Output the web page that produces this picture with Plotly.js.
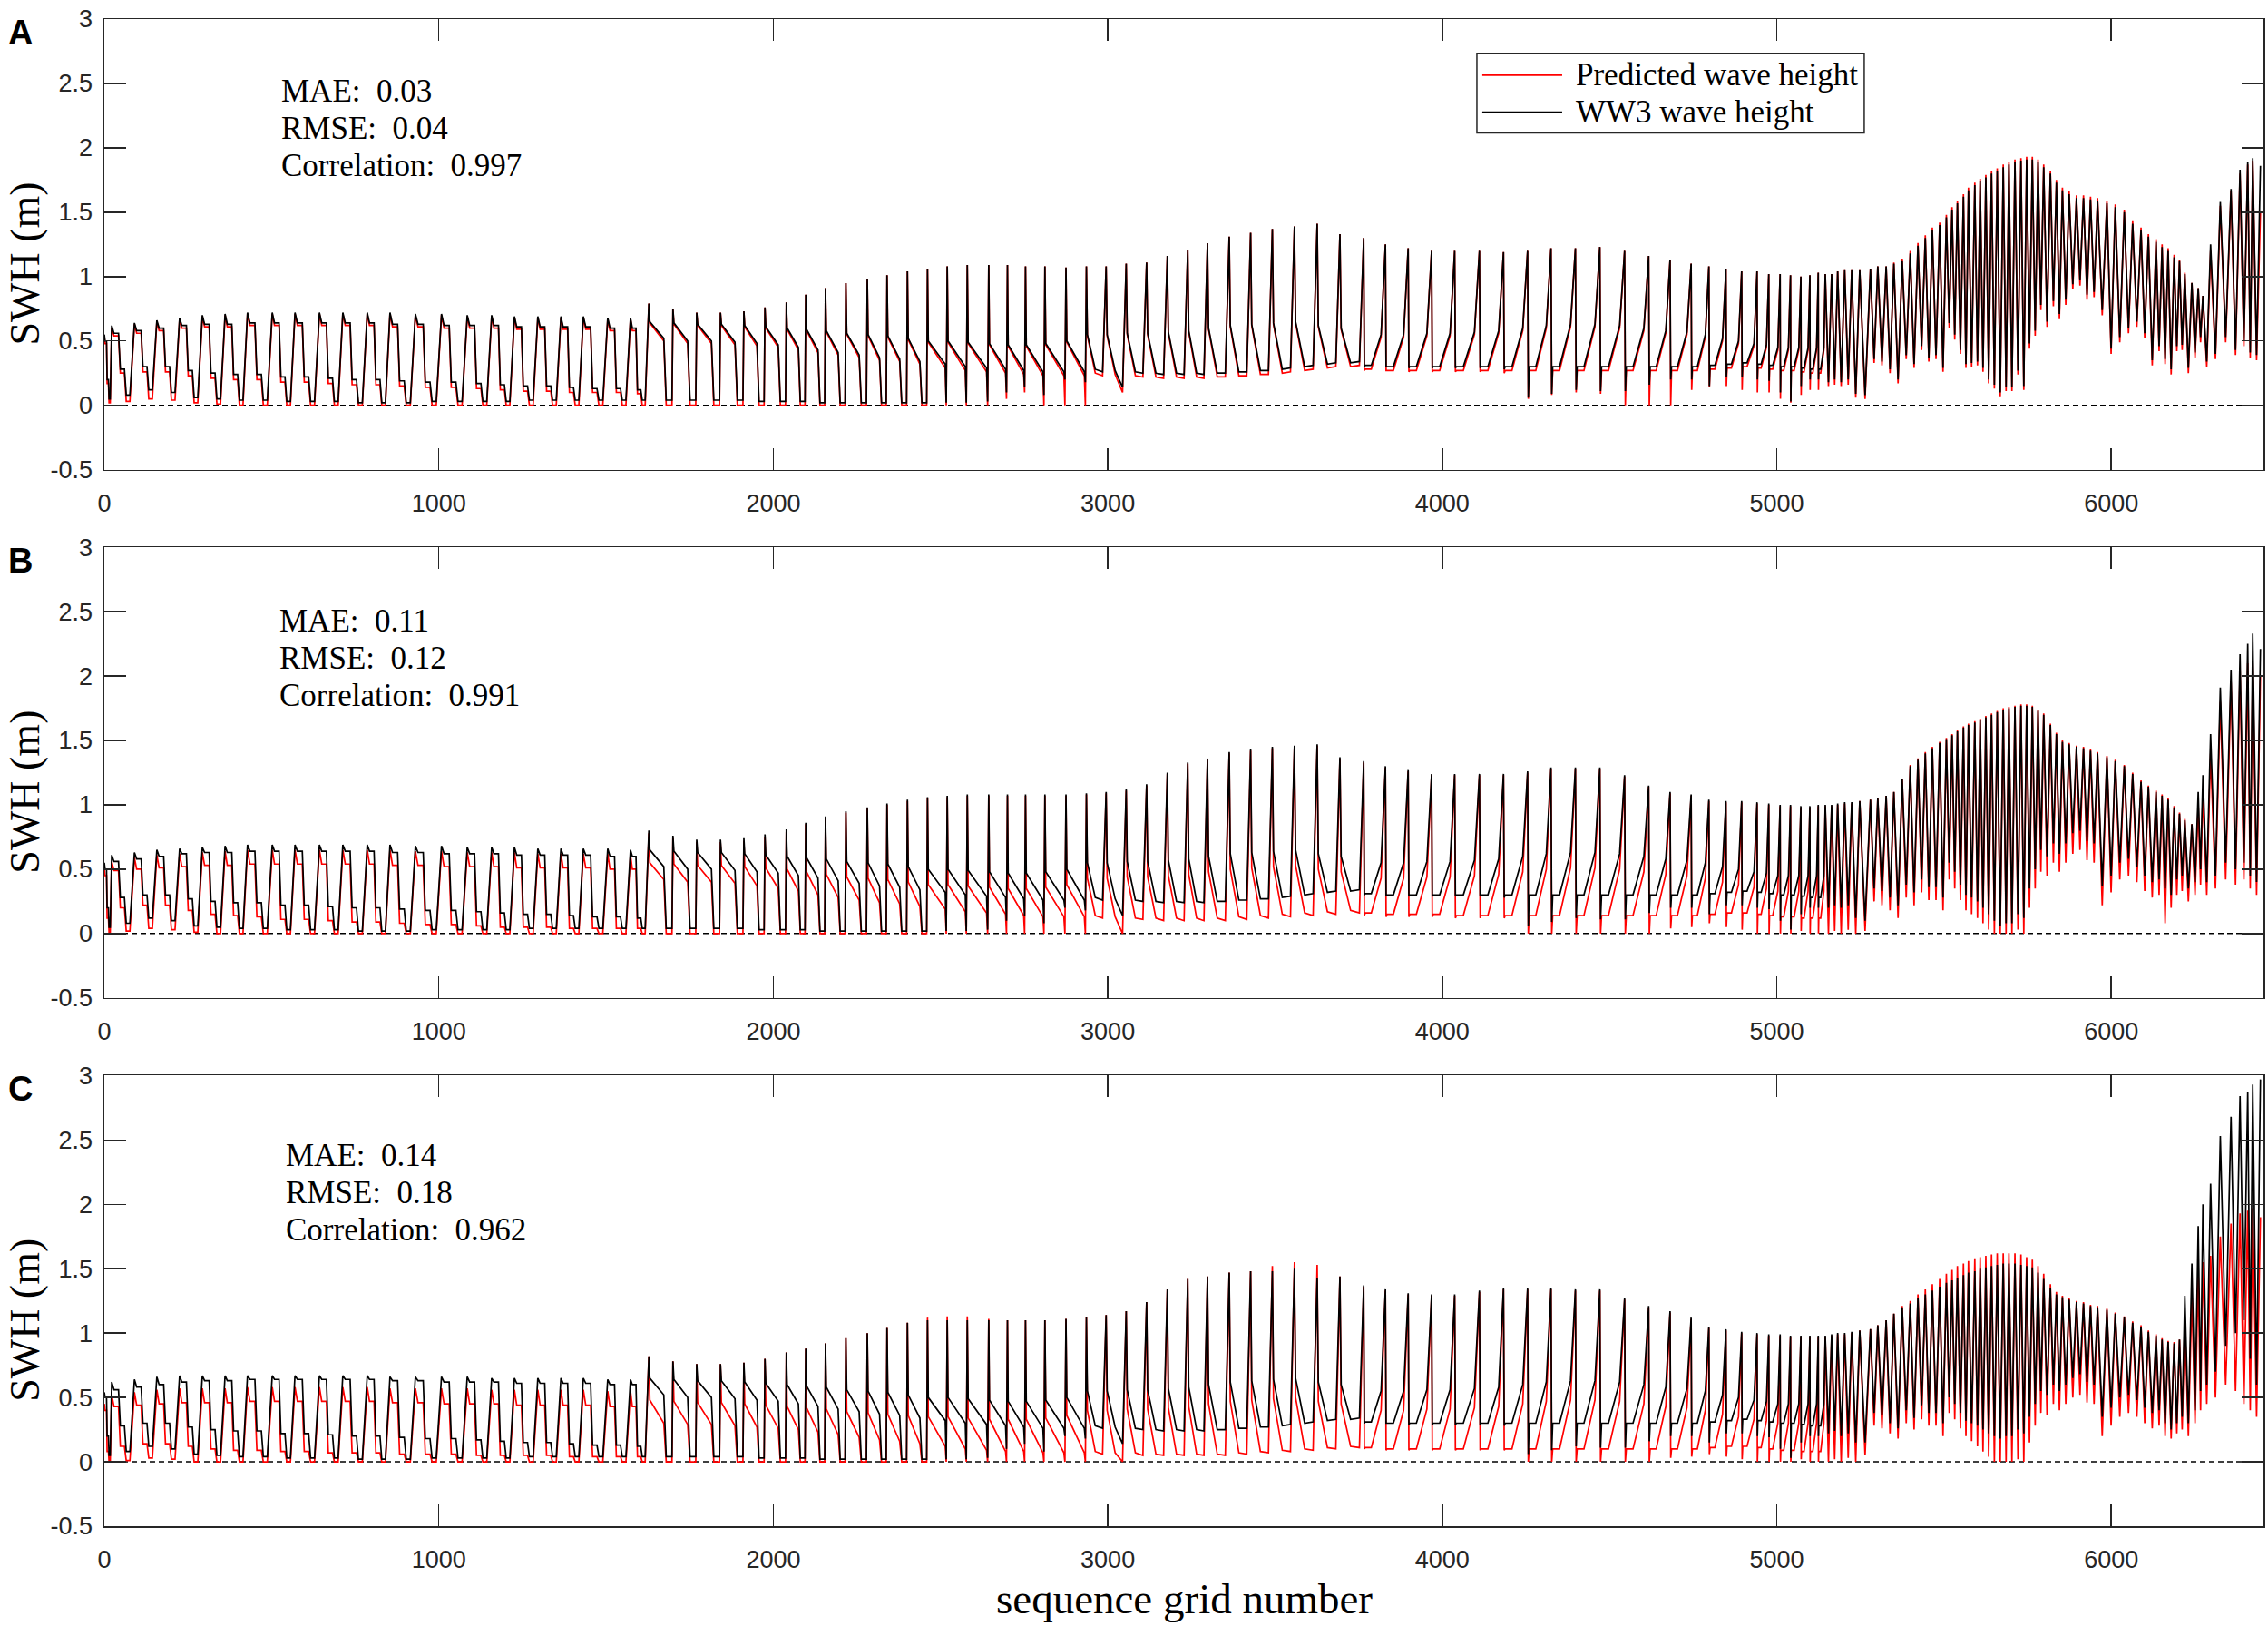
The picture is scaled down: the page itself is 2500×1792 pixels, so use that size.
<!DOCTYPE html>
<html>
<head>
<meta charset="utf-8">
<script src="https://cdn.plot.ly/plotly-3.0.1.min.js"></script>
<style>
  html, body { margin: 0; padding: 0; background: #fff; }
  #myDiv { width: 2500px; height: 1792px; }
</style>
</head>
<body>
<div id="myDiv"></div>
<script>
// grid number of every wave-height cycle peak (same grid in all three panels)
var cycleStart = [
  0, 22, 90, 157, 225, 293, 361, 428, 502, 570, 643, 713, 786, 854, 930, 1008, 1085, 1158, 1226, 1296, 1365, 1432, 1505, 1573,
  1628, 1700, 1771, 1842, 1912, 1975, 2039, 2097, 2156, 2217, 2281, 2340, 2401,
  2461, 2520, 2580, 2644, 2700, 2754, 2812, 2875,
  2936, 2995, 3055, 3116, 3178, 3239, 3298, 3363, 3427, 3492, 3558, 3626, 3694,
  3765, 3830, 3898, 3968, 4037, 4111, 4183, 4255, 4325, 4398, 4471, 4545, 4617, 4681, 4744, 4797, 4848, 4895, 4941, 4976, 5010, 5041, 5072, 5099, 5124,
  5145, 5164, 5182, 5203, 5224,
  5248, 5280, 5302, 5327, 5350, 5375, 5399, 5422, 5444, 5465,
  5487, 5507, 5524, 5540, 5558, 5573, 5592, 5608, 5625, 5642,
  5659, 5677, 5694, 5712, 5730, 5747, 5764, 5781, 5798, 5818,
  5836, 5854, 5874, 5896, 5917, 5938, 5959, 5987, 6012, 6039,
  6064, 6089, 6111, 6134, 6152, 6170, 6188, 6204, 6220, 6241,
  6260, 6274, 6297, 6326, 6358, 6385, 6408, 6423, 6446
];

// first cycle index of each stretch of the track, and how a cycle is drawn there
var regionFirst = [0, 24, 37, 45, 58, 83];
var regionShape = [
  [[0, 'P'], [0.1, 'U'], [0.3, 'U'], [0.38, 'L'], [0.56, 'L'], [0.64, 'B'], [0.8, 'B']],
  [[0, 'P'], [0.04, 'U'], [0.62, 'L'], [0.72, 'B'], [0.96, 'B']],
  [[0, 'P'], [0.04, 'U'], [0.9, 'L'], [0.95, 'B']],
  [[0, 'P'], [0.05, 'U'], [0.45, 'L'], [0.82, 'B']],
  [[0, 'P'], [0.03, 'B'], [0.07, 'L'], [0.35, 'L'], [0.8, 'U']],
  [[0, 'P'], [0.5, 'B']]
];

// ---- WW3 wave height ----
var obsPeakA = [
  0.55, 0.62, 0.64, 0.66, 0.68, 0.70, 0.71, 0.72, 0.72, 0.72, 0.72, 0.72, 0.72, 0.72, 0.71, 0.71, 0.70, 0.70, 0.69, 0.69, 0.69, 0.69, 0.68, 0.68,
  0.79, 0.75, 0.72, 0.72, 0.73, 0.76, 0.80, 0.86, 0.91, 0.95, 0.98, 1.01, 1.04,
  1.06, 1.08, 1.09, 1.09, 1.09, 1.08, 1.08, 1.07,
  1.08, 1.08, 1.10, 1.11, 1.16, 1.21, 1.26, 1.31, 1.34, 1.37, 1.39, 1.41, 1.33,
  1.30, 1.25, 1.22, 1.20, 1.20, 1.20, 1.19, 1.20, 1.22, 1.22, 1.23, 1.20, 1.16, 1.13, 1.10, 1.08, 1.06, 1.04, 1.04, 1.02, 1.02, 1.01, 1.00, 1.01, 1.03,
  1.02, 1.02, 1.04, 1.05, 1.05,
  1.05, 1.06, 1.08, 1.08, 1.10, 1.12, 1.18, 1.24, 1.30, 1.36,
  1.40, 1.46, 1.52, 1.57, 1.62, 1.67, 1.71, 1.74, 1.77, 1.80,
  1.82, 1.85, 1.87, 1.89, 1.90, 1.91, 1.91, 1.89, 1.85, 1.80,
  1.73, 1.67, 1.64, 1.61, 1.61, 1.60, 1.59, 1.57, 1.54, 1.50,
  1.41, 1.36, 1.31, 1.27, 1.23, 1.20, 1.15, 1.12, 1.02, 0.95,
  0.91, 0.85, 1.25, 1.58, 1.68, 1.83, 1.89, 1.92, 1.86
];
var obsPeakB = [
  0.55, 0.61, 0.63, 0.65, 0.66, 0.67, 0.68, 0.69, 0.69, 0.69, 0.69, 0.69, 0.69, 0.69, 0.68, 0.68, 0.67, 0.67, 0.67, 0.66, 0.66, 0.66, 0.66, 0.65,
  0.80, 0.76, 0.73, 0.73, 0.74, 0.77, 0.81, 0.86, 0.91, 0.95, 0.98, 1.01, 1.04,
  1.06, 1.07, 1.08, 1.08, 1.08, 1.08, 1.08, 1.08,
  1.09, 1.10, 1.12, 1.16, 1.25, 1.33, 1.36, 1.41, 1.43, 1.45, 1.46, 1.47, 1.37,
  1.34, 1.30, 1.27, 1.24, 1.24, 1.24, 1.24, 1.26, 1.29, 1.29, 1.29, 1.23, 1.15, 1.10, 1.08, 1.04, 1.03, 1.03, 1.02, 1.01, 1.00, 1.00, 0.99, 0.99, 1.00,
  1.00, 1.00, 1.01, 1.02, 1.02,
  1.03, 1.04, 1.05, 1.07, 1.10, 1.20, 1.30, 1.35, 1.40, 1.44,
  1.48, 1.51, 1.54, 1.57, 1.60, 1.62, 1.64, 1.66, 1.68, 1.70,
  1.72, 1.74, 1.75, 1.76, 1.77, 1.77, 1.76, 1.73, 1.70, 1.62,
  1.55, 1.49, 1.47, 1.45, 1.44, 1.42, 1.40, 1.37, 1.34, 1.30,
  1.24, 1.18, 1.14, 1.10, 1.07, 1.04, 0.98, 0.93, 0.88, 0.85,
  1.10, 1.23, 1.55, 1.91, 2.05, 2.17, 2.25, 2.33, 2.21
];
var obsPeakC = [
  0.54, 0.62, 0.64, 0.66, 0.67, 0.67, 0.67, 0.67, 0.67, 0.67, 0.67, 0.67, 0.67, 0.66, 0.66, 0.66, 0.66, 0.65, 0.65, 0.65, 0.65, 0.65, 0.64, 0.64,
  0.82, 0.78, 0.76, 0.76, 0.77, 0.80, 0.85, 0.88, 0.92, 0.96, 1.00, 1.04, 1.08,
  1.10, 1.10, 1.10, 1.10, 1.10, 1.10, 1.10, 1.11,
  1.12, 1.14, 1.17, 1.24, 1.34, 1.42, 1.44, 1.47, 1.48, 1.48, 1.50, 1.43, 1.44,
  1.37, 1.34, 1.31, 1.30, 1.30, 1.33, 1.35, 1.35, 1.35, 1.34, 1.34, 1.27, 1.21, 1.17, 1.12, 1.05, 1.03, 1.01, 1.00, 0.99, 0.99, 0.98, 0.98, 0.98, 0.98,
  0.98, 0.99, 1.00, 1.00, 1.01,
  1.02, 1.03, 1.06, 1.10, 1.15, 1.20, 1.23, 1.27, 1.30, 1.33,
  1.36, 1.39, 1.41, 1.43, 1.45, 1.47, 1.48, 1.50, 1.51, 1.52,
  1.53, 1.54, 1.54, 1.54, 1.53, 1.52, 1.51, 1.47, 1.42, 1.35,
  1.30, 1.28, 1.26, 1.24, 1.23, 1.21, 1.20, 1.18, 1.15, 1.12,
  1.08, 1.05, 1.01, 0.98, 0.95, 0.93, 0.92, 0.95, 1.29, 1.54,
  1.83, 2.00, 2.16, 2.53, 2.68, 2.84, 2.87, 2.93, 2.97
];
// shoulder / trough levels of the first 83 cycles, alike in the three runs
var obsUpper = [
  0.50, 0.56, 0.58, 0.60, 0.62, 0.63, 0.63, 0.64, 0.64, 0.64, 0.64, 0.64, 0.64, 0.63, 0.63, 0.62, 0.62, 0.62, 0.61, 0.61, 0.61, 0.61, 0.60, 0.60,
  0.65, 0.64, 0.63, 0.63, 0.62, 0.61, 0.60, 0.59, 0.58, 0.56, 0.55, 0.54, 0.52,
  0.50, 0.50, 0.49, 0.48, 0.47, 0.47, 0.48, 0.50,
  0.55, 0.55, 0.56, 0.56, 0.57, 0.58, 0.60, 0.62, 0.63, 0.64, 0.65, 0.62, 0.60,
  0.55, 0.55, 0.56, 0.56, 0.57, 0.58, 0.60, 0.62, 0.63, 0.63, 0.62, 0.60, 0.58, 0.57, 0.55, 0.52, 0.50, 0.48, 0.47, 0.45, 0.45, 0.45, 0.45, 0.45, 0.45
];
var obsLower = [
  0.20, 0.28, 0.30, 0.30, 0.27, 0.25, 0.24, 0.24, 0.22, 0.22, 0.21, 0.20, 0.20, 0.19, 0.18, 0.18, 0.17, 0.16, 0.15, 0.15, 0.14, 0.13, 0.13, 0.12,
  0.52, 0.50, 0.50, 0.49, 0.48, 0.47, 0.45, 0.43, 0.41, 0.39, 0.37, 0.36, 0.34,
  0.32, 0.30, 0.29, 0.28, 0.27, 0.26, 0.26, 0.26,
  0.28, 0.27, 0.26, 0.25, 0.25, 0.25, 0.25, 0.26, 0.27, 0.28, 0.30, 0.32, 0.33,
  0.31, 0.30, 0.30, 0.30, 0.30, 0.30, 0.30, 0.30, 0.30, 0.30, 0.30, 0.30, 0.30, 0.30, 0.30, 0.31, 0.32, 0.33, 0.32, 0.31, 0.30, 0.30, 0.29, 0.28, 0.28
];
var obsBottom = [
  0.05, 0.08, 0.12, 0.10, 0.06, 0.05, 0.04, 0.04, 0.03, 0.03, 0.03, 0.02, 0.02, 0.02, 0.03, 0.03, 0.03, 0.03, 0.04, 0.04, 0.04, 0.04, 0.04, 0.04,
  0.04, 0.04, 0.04, 0.04, 0.03, 0.03, 0.03, 0.02, 0.02, 0.02, 0.02, 0.02, 0.02,
  0.02, 0.02, 0.03, 0.10, 0.14, 0.08, 0.20, 0.18,
  0.26, 0.14, 0.25, 0.24, 0.24, 0.24, 0.25, 0.26, 0.27, 0.29, 0.31, 0.33, 0.34,
  0.30, 0.30, 0.29, 0.29, 0.29, 0.29, 0.28, 0.06, 0.09, 0.12, 0.11, 0.11, 0.16, 0.20, 0.20, 0.15, 0.22, 0.22, 0.20, 0.19, 0.10, 0.03, 0.15, 0.20, 0.20
];
// troughs of the dense stretch after grid 5140 (64 cycles)
var obsTroughA = [
  0.18, 0.20, 0.18, 0.20, 0.09,
  0.08, 0.36, 0.34, 0.28, 0.20, 0.39, 0.32, 0.46, 0.37, 0.39,
  0.29, 0.64, 0.55, 0.43, 0.32, 0.33, 0.34, 0.29, 0.20, 0.16,
  0.10, 0.14, 0.14, 0.27, 0.15, 0.48, 0.58, 0.78, 0.65, 0.81,
  0.71, 0.82, 0.94, 0.97, 0.86, 0.88, 0.74, 0.44, 0.53, 0.60,
  0.65, 0.56, 0.35, 0.46, 0.36, 0.28, 0.46, 0.47, 0.29, 0.41,
  0.53, 0.34, 0.40, 0.53, 0.43, 0.50, 0.41, 0.39, 0.20
];
var obsTroughB = [
  0.20, 0.22, 0.20, 0.22, 0.12,
  0.10, 0.35, 0.33, 0.28, 0.22, 0.38, 0.32, 0.42, 0.36, 0.36,
  0.28, 0.55, 0.48, 0.38, 0.30, 0.28, 0.25, 0.20, 0.15, 0.10,
  0.06, 0.08, 0.08, 0.15, 0.12, 0.35, 0.50, 0.65, 0.60, 0.70,
  0.62, 0.70, 0.78, 0.80, 0.72, 0.70, 0.37, 0.45, 0.55, 0.58,
  0.52, 0.45, 0.40, 0.42, 0.35, 0.30, 0.42, 0.45, 0.35, 0.40,
  0.50, 0.40, 0.45, 0.55, 0.50, 0.55, 0.45, 0.40, 0.30
];
var obsTroughC = [
  0.22, 0.24, 0.20, 0.22, 0.15,
  0.15, 0.38, 0.36, 0.30, 0.26, 0.40, 0.34, 0.44, 0.38, 0.38,
  0.30, 0.50, 0.45, 0.38, 0.32, 0.30, 0.28, 0.25, 0.22, 0.20,
  0.18, 0.20, 0.20, 0.25, 0.22, 0.35, 0.45, 0.55, 0.52, 0.60,
  0.55, 0.60, 0.65, 0.68, 0.62, 0.60, 0.35, 0.42, 0.50, 0.52,
  0.48, 0.42, 0.38, 0.40, 0.30, 0.25, 0.30, 0.35, 0.30, 0.40,
  0.55, 0.60, 0.70, 0.90, 1.00, 1.10, 0.80, 0.60, 0.40
];

// ---- Predicted wave height ----
var predPeakA = [
  0.53, 0.60, 0.63, 0.65, 0.67, 0.69, 0.70, 0.71, 0.71, 0.71, 0.71, 0.71, 0.71, 0.71, 0.70, 0.70, 0.69, 0.69, 0.68, 0.68, 0.68, 0.68, 0.67, 0.67,
  0.79, 0.75, 0.72, 0.72, 0.73, 0.76, 0.80, 0.86, 0.91, 0.95, 0.98, 1.01, 1.04,
  1.06, 1.08, 1.09, 1.09, 1.09, 1.08, 1.08, 1.07,
  1.08, 1.08, 1.10, 1.11, 1.16, 1.21, 1.26, 1.31, 1.34, 1.37, 1.39, 1.41, 1.33,
  1.30, 1.25, 1.22, 1.20, 1.20, 1.20, 1.19, 1.20, 1.22, 1.22, 1.23, 1.20, 1.16, 1.13, 1.10, 1.08, 1.06, 1.04, 1.04, 1.02, 1.02, 1.01, 1.00, 1.01, 1.03,
  1.02, 1.02, 1.04, 1.05, 1.05,
  1.05, 1.06, 1.08, 1.08, 1.11, 1.14, 1.20, 1.26, 1.32, 1.38,
  1.42, 1.48, 1.54, 1.59, 1.64, 1.69, 1.73, 1.76, 1.79, 1.82,
  1.84, 1.87, 1.89, 1.91, 1.92, 1.93, 1.93, 1.91, 1.87, 1.82,
  1.75, 1.69, 1.66, 1.63, 1.63, 1.62, 1.61, 1.59, 1.56, 1.52,
  1.43, 1.38, 1.33, 1.29, 1.25, 1.22, 1.17, 1.13, 1.03, 0.95,
  0.91, 0.85, 1.20, 1.55, 1.66, 1.80, 1.87, 1.90, 1.50
];
var predPeakB = [
  0.50, 0.56, 0.59, 0.61, 0.62, 0.63, 0.64, 0.65, 0.65, 0.65, 0.65, 0.65, 0.65, 0.65, 0.64, 0.64, 0.63, 0.63, 0.63, 0.62, 0.62, 0.62, 0.62, 0.61,
  0.78, 0.74, 0.71, 0.71, 0.72, 0.75, 0.79, 0.85, 0.90, 0.94, 0.97, 1.00, 1.03,
  1.05, 1.06, 1.07, 1.07, 1.07, 1.07, 1.07, 1.07,
  1.08, 1.09, 1.11, 1.15, 1.24, 1.32, 1.35, 1.40, 1.42, 1.44, 1.45, 1.46, 1.36,
  1.33, 1.29, 1.26, 1.23, 1.23, 1.23, 1.23, 1.25, 1.28, 1.28, 1.28, 1.22, 1.14, 1.09, 1.07, 1.03, 1.02, 1.02, 1.01, 1.00, 0.99, 0.99, 0.98, 0.98, 0.99,
  0.99, 0.99, 1.00, 1.01, 1.01,
  1.03, 1.04, 1.05, 1.07, 1.10, 1.20, 1.31, 1.36, 1.41, 1.45,
  1.49, 1.52, 1.55, 1.58, 1.61, 1.63, 1.65, 1.67, 1.69, 1.71,
  1.73, 1.75, 1.76, 1.77, 1.78, 1.78, 1.77, 1.74, 1.71, 1.63,
  1.56, 1.50, 1.48, 1.46, 1.45, 1.43, 1.41, 1.38, 1.35, 1.31,
  1.25, 1.19, 1.15, 1.11, 1.08, 1.05, 0.99, 0.94, 0.89, 0.85,
  1.00, 1.10, 1.40, 1.80, 1.95, 2.05, 2.10, 2.10, 2.00
];
var predPeakC = [
  0.45, 0.52, 0.54, 0.56, 0.57, 0.57, 0.57, 0.58, 0.58, 0.58, 0.58, 0.58, 0.58, 0.57, 0.57, 0.57, 0.57, 0.56, 0.56, 0.56, 0.56, 0.56, 0.55, 0.55,
  0.82, 0.78, 0.76, 0.76, 0.77, 0.80, 0.85, 0.88, 0.92, 0.96, 1.00, 1.04, 1.08,
  1.12, 1.13, 1.13, 1.11, 1.10, 1.10, 1.10, 1.11,
  1.12, 1.14, 1.17, 1.24, 1.34, 1.42, 1.44, 1.47, 1.48, 1.52, 1.55, 1.53, 1.44,
  1.36, 1.33, 1.30, 1.29, 1.29, 1.32, 1.34, 1.34, 1.34, 1.33, 1.33, 1.26, 1.20, 1.16, 1.11, 1.04, 1.02, 1.00, 0.99, 0.98, 0.98, 0.97, 0.97, 0.97, 0.97,
  0.97, 0.98, 0.99, 0.99, 1.00,
  1.02, 1.03, 1.06, 1.10, 1.15, 1.21, 1.25, 1.30, 1.34, 1.38,
  1.42, 1.46, 1.49, 1.52, 1.54, 1.56, 1.58, 1.59, 1.60, 1.61,
  1.62, 1.62, 1.62, 1.62, 1.61, 1.59, 1.57, 1.52, 1.46, 1.38,
  1.32, 1.29, 1.27, 1.25, 1.24, 1.22, 1.21, 1.19, 1.16, 1.13,
  1.09, 1.06, 1.02, 0.99, 0.96, 0.94, 0.93, 0.95, 1.10, 1.30,
  1.45, 1.55, 1.60, 1.75, 1.85, 1.93, 1.95, 1.97, 1.90
];
var predUpperA = [
  0.48, 0.54, 0.56, 0.58, 0.60, 0.61, 0.61, 0.62, 0.62, 0.62, 0.62, 0.62, 0.62, 0.61, 0.61, 0.60, 0.60, 0.60, 0.59, 0.59, 0.59, 0.59, 0.58, 0.58,
  0.64, 0.63, 0.62, 0.62, 0.61, 0.60, 0.59, 0.58, 0.57, 0.55, 0.54, 0.53, 0.51,
  0.49, 0.49, 0.48, 0.47, 0.46, 0.46, 0.47, 0.49,
  0.54, 0.54, 0.55, 0.55, 0.56, 0.57, 0.59, 0.61, 0.62, 0.63, 0.64, 0.61, 0.59,
  0.53, 0.53, 0.54, 0.54, 0.55, 0.56, 0.58, 0.60, 0.61, 0.61, 0.60, 0.58, 0.56, 0.55, 0.53, 0.50, 0.48, 0.46, 0.45, 0.43, 0.43, 0.43, 0.43, 0.43, 0.43
];
var predUpperB = [
  0.45, 0.49, 0.50, 0.51, 0.52, 0.53, 0.53, 0.54, 0.54, 0.54, 0.54, 0.54, 0.54, 0.53, 0.53, 0.52, 0.52, 0.52, 0.51, 0.51, 0.51, 0.51, 0.50, 0.50,
  0.55, 0.54, 0.53, 0.53, 0.52, 0.51, 0.50, 0.48, 0.46, 0.44, 0.43, 0.42, 0.40,
  0.38, 0.38, 0.37, 0.36, 0.35, 0.35, 0.36, 0.38,
  0.43, 0.43, 0.44, 0.44, 0.45, 0.46, 0.48, 0.50, 0.51, 0.52, 0.53, 0.50, 0.48,
  0.43, 0.43, 0.44, 0.44, 0.45, 0.46, 0.48, 0.50, 0.51, 0.51, 0.50, 0.48, 0.46, 0.45, 0.43, 0.40, 0.38, 0.36, 0.35, 0.33, 0.33, 0.33, 0.33, 0.33, 0.33
];
var predUpperC = [
  0.40, 0.43, 0.44, 0.45, 0.46, 0.46, 0.46, 0.47, 0.47, 0.47, 0.47, 0.47, 0.47, 0.46, 0.46, 0.45, 0.45, 0.45, 0.44, 0.44, 0.44, 0.44, 0.43, 0.43,
  0.48, 0.47, 0.46, 0.46, 0.45, 0.44, 0.43, 0.42, 0.41, 0.39, 0.38, 0.37, 0.36,
  0.35, 0.35, 0.34, 0.33, 0.33, 0.33, 0.34, 0.36,
  0.40, 0.40, 0.41, 0.41, 0.42, 0.43, 0.45, 0.47, 0.48, 0.49, 0.50, 0.47, 0.45,
  0.40, 0.40, 0.41, 0.41, 0.42, 0.43, 0.45, 0.47, 0.48, 0.48, 0.47, 0.45, 0.43, 0.42, 0.40, 0.37, 0.35, 0.33, 0.32, 0.30, 0.30, 0.30, 0.30, 0.30, 0.30
];
var predLowerA = [
  0.17, 0.25, 0.26, 0.26, 0.23, 0.21, 0.20, 0.20, 0.18, 0.18, 0.17, 0.16, 0.16, 0.15, 0.14, 0.14, 0.13, 0.12, 0.11, 0.11, 0.10, 0.10, 0.10, 0.09,
  0.50, 0.48, 0.48, 0.47, 0.46, 0.45, 0.43, 0.41, 0.39, 0.37, 0.35, 0.34, 0.32,
  0.29, 0.27, 0.26, 0.25, 0.24, 0.23, 0.23, 0.23,
  0.25, 0.24, 0.23, 0.22, 0.22, 0.22, 0.22, 0.23, 0.24, 0.25, 0.27, 0.29, 0.30,
  0.28, 0.27, 0.27, 0.27, 0.27, 0.27, 0.27, 0.27, 0.27, 0.27, 0.27, 0.27, 0.27, 0.27, 0.27, 0.28, 0.29, 0.30, 0.29, 0.28, 0.27, 0.27, 0.26, 0.25, 0.25
];
var predLowerB = [
  0.12, 0.20, 0.22, 0.22, 0.18, 0.15, 0.14, 0.13, 0.11, 0.11, 0.10, 0.09, 0.09, 0.08, 0.07, 0.07, 0.06, 0.05, 0.05, 0.05, 0.04, 0.04, 0.04, 0.04,
  0.42, 0.40, 0.40, 0.39, 0.37, 0.35, 0.33, 0.30, 0.28, 0.26, 0.24, 0.23, 0.21,
  0.19, 0.17, 0.16, 0.15, 0.14, 0.13, 0.13, 0.13,
  0.14, 0.13, 0.12, 0.12, 0.12, 0.12, 0.12, 0.13, 0.14, 0.15, 0.16, 0.17, 0.18,
  0.16, 0.15, 0.15, 0.15, 0.14, 0.14, 0.14, 0.14, 0.14, 0.14, 0.14, 0.14, 0.14, 0.14, 0.14, 0.15, 0.16, 0.16, 0.15, 0.14, 0.13, 0.13, 0.12, 0.12, 0.12
];
var predLowerC = [
  0.08, 0.12, 0.14, 0.14, 0.12, 0.10, 0.09, 0.09, 0.08, 0.08, 0.07, 0.07, 0.07, 0.06, 0.06, 0.06, 0.05, 0.05, 0.05, 0.05, 0.04, 0.04, 0.04, 0.04,
  0.30, 0.29, 0.29, 0.28, 0.27, 0.26, 0.25, 0.23, 0.21, 0.19, 0.17, 0.16, 0.14,
  0.12, 0.10, 0.09, 0.08, 0.08, 0.07, 0.07, 0.07,
  0.08, 0.07, 0.07, 0.06, 0.06, 0.06, 0.06, 0.07, 0.08, 0.09, 0.10, 0.11, 0.12,
  0.11, 0.10, 0.10, 0.10, 0.10, 0.10, 0.10, 0.10, 0.10, 0.10, 0.10, 0.10, 0.10, 0.10, 0.10, 0.11, 0.12, 0.12, 0.11, 0.10, 0.09, 0.09, 0.08, 0.08, 0.08
];
var predBottomA = [
  0.02, 0.03, 0.05, 0.04, 0.02, 0.01, 0, 0, 0, 0, 0, 0, 0, 0, 0, 0, 0, 0, 0, 0, 0, 0, 0, 0,
  0, 0, 0, 0, 0, 0, 0, 0, 0, 0, 0, 0, 0,
  0, 0, 0, 0.05, 0.10, 0, 0, 0,
  0.23, 0.10, 0.22, 0.21, 0.21, 0.21, 0.22, 0.23, 0.24, 0.26, 0.28, 0.30, 0.31,
  0.27, 0.27, 0.26, 0.26, 0.26, 0.26, 0.25, 0.05, 0.08, 0.10, 0.09, 0, 0, 0, 0.12, 0.14, 0.15, 0.12, 0.10, 0.10, 0.05, 0.02, 0.08, 0.12, 0.12
];
var predBottomB = [
  0.01, 0.02, 0.04, 0.03, 0.01, 0, 0, 0, 0, 0, 0, 0, 0, 0, 0, 0, 0, 0, 0, 0, 0, 0, 0, 0,
  0, 0, 0, 0, 0, 0, 0, 0, 0, 0, 0, 0, 0,
  0, 0, 0, 0, 0, 0, 0, 0,
  0.12, 0, 0.11, 0.10, 0.10, 0.10, 0.10, 0.11, 0.12, 0.13, 0.14, 0.15, 0.16,
  0.14, 0.13, 0.13, 0.13, 0.12, 0.12, 0.12, 0, 0, 0, 0, 0, 0, 0.04, 0.05, 0.08, 0.05, 0.03, 0, 0, 0, 0, 0.02, 0, 0
];
var predBottomC = [
  0, 0.01, 0.03, 0.02, 0, 0, 0, 0, 0, 0, 0, 0, 0, 0, 0, 0, 0, 0, 0, 0, 0, 0, 0, 0,
  0, 0, 0, 0, 0, 0, 0, 0, 0, 0, 0, 0, 0,
  0, 0, 0, 0, 0, 0, 0, 0,
  0.06, 0, 0.05, 0.05, 0.05, 0.05, 0.05, 0.06, 0.07, 0.08, 0.09, 0.10, 0.11,
  0.10, 0.09, 0.09, 0.09, 0.09, 0.09, 0.09, 0, 0, 0, 0, 0, 0, 0.03, 0.04, 0.06, 0.04, 0.02, 0, 0, 0, 0, 0.02, 0, 0
];
var predTroughA = [
  0.15, 0.16, 0.15, 0.16, 0.06,
  0.05, 0.33, 0.31, 0.25, 0.17, 0.36, 0.29, 0.43, 0.34, 0.36,
  0.26, 0.60, 0.51, 0.40, 0.29, 0.30, 0.31, 0.26, 0.17, 0.13,
  0.07, 0.11, 0.11, 0.24, 0.12, 0.44, 0.54, 0.74, 0.61, 0.77,
  0.67, 0.78, 0.90, 0.93, 0.82, 0.84, 0.70, 0.40, 0.49, 0.56,
  0.61, 0.52, 0.31, 0.42, 0.32, 0.24, 0.42, 0.43, 0.25, 0.37,
  0.49, 0.30, 0.36, 0.49, 0.39, 0.46, 0.37, 0.35, 0.10
];
var predTroughB = [
  0, 0.02, 0, 0.03, 0,
  0.02, 0.25, 0.22, 0.18, 0.12, 0.28, 0.22, 0.32, 0.26, 0.26,
  0.18, 0.42, 0.35, 0.26, 0.18, 0.15, 0.12, 0.08, 0.03, 0,
  0, 0, 0, 0.03, 0, 0.20, 0.35, 0.48, 0.45, 0.55,
  0.48, 0.55, 0.62, 0.65, 0.57, 0.55, 0.22, 0.32, 0.42, 0.45,
  0.40, 0.33, 0.28, 0.30, 0.08, 0.20, 0.30, 0.33, 0.25, 0.30,
  0.38, 0.30, 0.35, 0.42, 0.38, 0.42, 0.35, 0.30, 0.20
];
var predTroughC = [
  0, 0.02, 0, 0.03, 0,
  0.05, 0.28, 0.26, 0.22, 0.18, 0.30, 0.25, 0.33, 0.28, 0.28,
  0.20, 0.38, 0.33, 0.26, 0.20, 0.16, 0.12, 0.08, 0.04, 0,
  0, 0, 0, 0.02, 0, 0.15, 0.28, 0.38, 0.36, 0.45,
  0.40, 0.45, 0.50, 0.52, 0.46, 0.45, 0.20, 0.28, 0.35, 0.38,
  0.35, 0.30, 0.26, 0.28, 0.20, 0.18, 0.22, 0.25, 0.20, 0.30,
  0.40, 0.45, 0.50, 0.60, 0.55, 0.45, 0.40, 0.35, 0.30
];

var xTickVals = [0, 1000, 2000, 3000, 4000, 5000, 6000];
var yTickVals = [-0.5, 0, 0.5, 1, 1.5, 2, 2.5, 3];
var yTickText = ['-0.5', '0', '0.5', '1', '1.5', '2', '2.5', '3'];
var panelLetters = ['A', 'B', 'C'];
var seriesNames = ['Predicted wave height', 'WW3 wave height'];
var seriesColors = ['#ff0000', '#000000'];
var statText = [
  ['MAE:  0.03', 'RMSE:  0.04', 'Correlation:  0.997'],
  ['MAE:  0.11', 'RMSE:  0.12', 'Correlation:  0.991'],
  ['MAE:  0.14', 'RMSE:  0.18', 'Correlation:  0.962']
];

var sans = '"Liberation Sans", Arial, sans-serif';
var serif = '"Liberation Serif", "Times New Roman", serif';
var axisColor = '#262626';

function regionOf(i) {
  var r = 0;
  while (r + 1 < regionFirst.length && i >= regionFirst[r + 1]) r++;
  return r;
}

// walk the cycles and lay down the key points of each one
function buildLine(peak, upper, lower, bottom) {
  var xs = [], ys = [];
  var n = cycleStart.length;
  for (var i = 0; i < n; i++) {
    if (i === n - 1) { xs.push(cycleStart[i]); ys.push(peak[i]); break; }
    var len = cycleStart[i + 1] - cycleStart[i];
    regionShape[regionOf(i)].forEach(function (step) {
      var k = step[1];
      var v = k === 'P' ? peak[i] : k === 'U' ? upper[i] : k === 'L' ? lower[i] : bottom[i];
      xs.push(cycleStart[i] + step[0] * len);
      ys.push(v);
    });
  }
  return {x: xs, y: ys};
}

var panels = [
  {obs: buildLine(obsPeakA, obsUpper, obsLower, obsBottom.concat(obsTroughA)),
   pred: buildLine(predPeakA, predUpperA, predLowerA, predBottomA.concat(predTroughA))},
  {obs: buildLine(obsPeakB, obsUpper, obsLower, obsBottom.concat(obsTroughB)),
   pred: buildLine(predPeakB, predUpperB, predLowerB, predBottomB.concat(predTroughB))},
  {obs: buildLine(obsPeakC, obsUpper, obsLower, obsBottom.concat(obsTroughC)),
   pred: buildLine(predPeakC, predUpperC, predLowerC, predBottomC.concat(predTroughC))}
];

var domains = [[0.7010, 1], [0.3505, 0.6495], [0, 0.2990]];
var data = [];
var layout = {
  width: 2500,
  height: 1792,
  margin: {l: 115, r: 5, t: 21, b: 110},
  paper_bgcolor: '#ffffff',
  plot_bgcolor: '#ffffff',
  showlegend: false,
  annotations: [],
  shapes: []
};

panels.forEach(function (p, k) {
  var sfx = k === 0 ? '' : String(k + 1);
  var xa = 'x' + sfx, ya = 'y' + sfx;

  [p.pred, p.obs].forEach(function (line, j) {
    data.push({
      x: line.x, y: line.y, xaxis: xa, yaxis: ya,
      type: 'scatter', mode: 'lines', name: seriesNames[j],
      line: {color: seriesColors[j], width: 1.7}, hoverinfo: 'skip'
    });
  });

  layout['xaxis' + sfx] = {
    anchor: ya, domain: [0, 1], range: [0, 6455],
    tickvals: xTickVals, ticks: 'inside', ticklen: 24, tickwidth: 1.5, tickcolor: axisColor,
    showline: true, linecolor: axisColor, linewidth: 1.5, mirror: 'ticks',
    showgrid: false, zeroline: false, ticklabelstandoff: 12, ticklabeloverflow: 'allow',
    tickfont: {family: sans, size: 27, color: axisColor}
  };
  layout['yaxis' + sfx] = {
    anchor: xa, domain: domains[k], range: [-0.5, 3],
    tickvals: yTickVals, ticktext: yTickText, ticks: 'inside', ticklen: 24, tickwidth: 1.5, tickcolor: axisColor,
    showline: true, linecolor: axisColor, linewidth: 1.5, mirror: 'ticks',
    showgrid: false, zeroline: false, ticklabelstandoff: 6, ticklabeloverflow: 'allow',
    tickfont: {family: sans, size: 27, color: axisColor}
  };

  layout.shapes.push({
    type: 'line', xref: xa, yref: ya, x0: 0, x1: 6455, y0: 0, y1: 0,
    line: {color: '#000', width: 1.5, dash: '6px,4px'}, layer: 'below'
  });

  layout.annotations.push({
    text: '<b>' + panelLetters[k] + '</b>', xref: 'paper', yref: 'paper',
    x: -0.039, y: [0.9910, 0.6405, 0.2900][k], xanchor: 'center', yanchor: 'middle',
    showarrow: false, font: {family: sans, size: 38, color: '#000'}
  });
  layout.annotations.push({
    text: 'SWH (m)', xref: 'paper', yref: ya, x: -0.0366, y: 1.1, textangle: -90,
    xanchor: 'center', yanchor: 'middle', showarrow: false,
    font: {family: serif, size: 46, color: '#000'}
  });
  var statY = [[2.44, 2.15, 1.86], [2.43, 2.14, 1.85], [2.38, 2.09, 1.80]][k];
  var statX = [523, 518, 536][k];
  statText[k].forEach(function (t, j) {
    layout.annotations.push({
      text: t.replace('  ', '\u00a0 '), xref: xa, yref: ya, x: statX, y: statY[j],
      xanchor: 'left', yanchor: 'middle', showarrow: false,
      font: {family: serif, size: 35, color: '#000'}
    });
  });
});

// legend box of panel A, laid out as in the figure
layout.shapes.push({
  type: 'rect', xref: 'paper', yref: 'paper', x0: 0.6357, x1: 0.8151, y0: 0.9245, y1: 0.9772,
  line: {color: axisColor, width: 1.5}, fillcolor: '#ffffff', layer: 'above'
});
[0.9628, 0.9383].forEach(function (yy, j) {
  layout.shapes.push({
    type: 'line', xref: 'paper', yref: 'paper', x0: 0.6382, x1: 0.6752, y0: yy, y1: yy,
    line: {color: seriesColors[j], width: 1.7}, layer: 'above'
  });
  layout.annotations.push({
    text: seriesNames[j], xref: 'paper', yref: 'paper', x: 0.6807, y: yy,
    xanchor: 'left', yanchor: 'middle', showarrow: false,
    font: {family: serif, size: 35, color: '#000'}
  });
});

layout.annotations.push({
  text: 'sequence grid number', xref: 'paper', yref: 'paper', x: 0.5, y: -0.048,
  xanchor: 'center', yanchor: 'middle', showarrow: false,
  font: {family: serif, size: 47, color: '#000'}
});

Plotly.newPlot('myDiv', data, layout, {displayModeBar: false, staticPlot: true});
</script>
</body>
</html>
